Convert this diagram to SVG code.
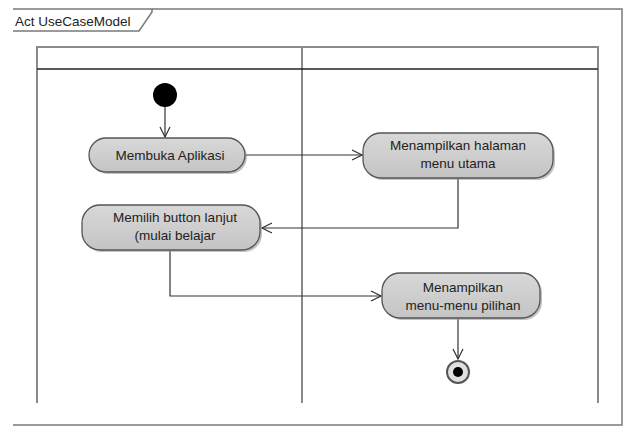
<svg xmlns="http://www.w3.org/2000/svg" width="627" height="428" viewBox="0 0 627 428">
<style>
.frame{fill:none;stroke:#7a7a7a;stroke-width:1.5}
.lane{fill:none;stroke:#8a8a8a;stroke-width:2}
.hdr{fill:none;stroke:#222;stroke-width:1.5}
.shadow{fill:#9a9a9a;opacity:0.6}
.act{fill:url(#g);stroke:#555;stroke-width:1.3}
.t{font-family:"Liberation Sans",Arial,sans-serif;font-size:13.5px;fill:#222;text-anchor:middle}
.tab{font-family:"Liberation Sans",Arial,sans-serif;font-size:13.5px;fill:#222}
.edge{fill:none;stroke:#333;stroke-width:1.2}
</style>
<defs>
<linearGradient id="g" x1="0" y1="0" x2="0" y2="1">
<stop offset="0" stop-color="#d8d8d8"/>
<stop offset="1" stop-color="#c4c4c4"/>
</linearGradient>
<marker id="arr" viewBox="0 0 12 12" refX="11" refY="6" markerWidth="12" markerHeight="12" markerUnits="userSpaceOnUse" orient="auto">
<path d="M1,1 L11,6 L1,11" fill="none" stroke="#333" stroke-width="1.2"/>
</marker>
</defs>
<rect width="627" height="428" fill="#fff"/>
<g id="frame">
<polyline class="frame" points="152,9 622,9 622,425 13,425"/>
<path class="frame" d="M13,9 H152 V12 L139,31 H13"/>
<text class="tab" x="15" y="26">Act UseCaseModel</text>
</g>
<g id="swimlanes">
<polyline class="lane" points="37,403 37,47 598,47 598,403"/>
<line class="lane" x1="302" y1="47" x2="302" y2="403"/>
<line class="hdr" x1="37" y1="69" x2="598" y2="69"/>
</g>
<g id="connectors">
<path class="edge" d="M165,107 V137" marker-end="url(#arr)"/>
<path class="edge" d="M245,155 H362" marker-end="url(#arr)"/>
<path class="edge" d="M458,178 V228 H262" marker-end="url(#arr)"/>
<path class="edge" d="M170,250 V296 H381" marker-end="url(#arr)"/>
<path class="edge" d="M458,318 V359" marker-end="url(#arr)"/>
</g>
<g id="start">
<circle cx="165" cy="95" r="12" fill="#000"/>
</g>
<g id="membuka">
<rect class="shadow" x="91" y="140" width="156" height="34" rx="17"/>
<rect class="act" x="89" y="138" width="156" height="34" rx="17"/>
<text class="t" x="170" y="160">Membuka Aplikasi</text>
</g>
<g id="menampilkan-halaman">
<rect class="shadow" x="365" y="135" width="190" height="45" rx="18"/>
<rect class="act" x="363" y="133" width="190" height="45" rx="18"/>
<text class="t" x="458" y="150">Menampilkan halaman</text>
<text class="t" x="458" y="168">menu utama</text>
</g>
<g id="memilih">
<rect class="shadow" x="84" y="207" width="178" height="45" rx="18"/>
<rect class="act" x="82" y="205" width="178" height="45" rx="18"/>
<text class="t" x="175" y="222">Memilih button lanjut</text>
<text class="t" x="175" y="240">(mulai belajar</text>
</g>
<g id="menampilkan-menu">
<rect class="shadow" x="384" y="275" width="158" height="45" rx="18"/>
<rect class="act" x="382" y="273" width="158" height="45" rx="18"/>
<text class="t" x="463" y="292">Menampilkan</text>
<text class="t" x="463" y="310">menu-menu pilihan</text>
</g>
<g id="end">
<circle cx="458" cy="372" r="11" fill="#e0e0e0" stroke="#555" stroke-width="2"/>
<circle cx="458" cy="372" r="5" fill="#000"/>
</g>
</svg>
